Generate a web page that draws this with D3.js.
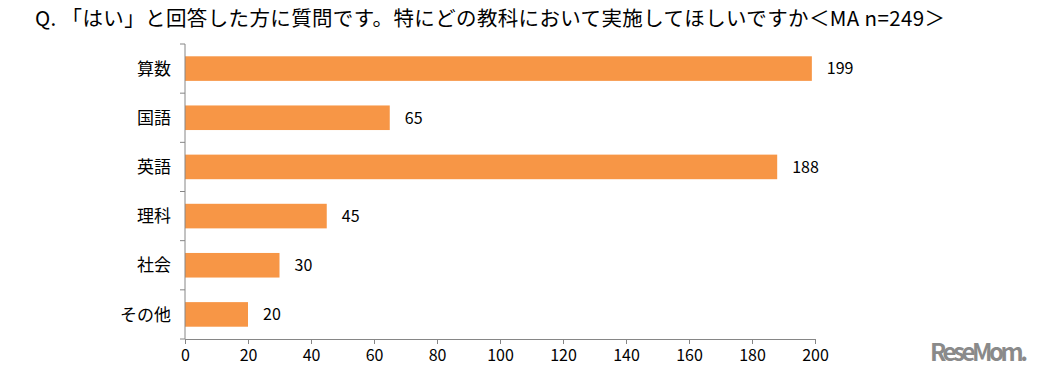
<!DOCTYPE html>
<html>
<head>
<meta charset="utf-8">
<script src="https://cdn.jsdelivr.net/npm/d3@7"></script>
<style>
  body { margin: 0; background: #fff; }
  text { font-family: "Noto Sans CJK JP", "Noto Sans", sans-serif; fill: #000; }
</style>
</head>
<body>
<div id="chart"></div>
<script>
    const width = 1041, height = 375;

    // データ
    const categories = ["算数", "国語", "英語", "理科", "社会", "その他"];
    const counts = [199, 65, 188, 45, 30, 20];
    const xTicks = [0, 20, 40, 60, 80, 100, 120, 140, 160, 180, 200];
    const title = "Q. 「はい」と回答した方に質問です。特にどの教科において実施してほしいですか＜MA n=249＞";

    const margin = { top: 44, left: 185, right: 226, bottom: 36 };

    const svg = d3.select("#chart")
        .append("svg")
        .attr("width", width)
        .attr("height", height);

    const x = d3.scaleLinear()
        .domain([0, 200])
        .range([margin.left, width - margin.right]);

    const y = d3.scaleBand()
        .domain(categories)
        .range([margin.top, height - margin.bottom])
        .paddingInner(0.5)
        .paddingOuter(0.25);

    // タイトル
    svg.append("text")
        .attr("x", 35)
        .attr("y", 26)
        .attr("font-size", 20.5)
        .attr("textLength", 910)
        .attr("lengthAdjust", "spacing")
        .text(title);

    // 棒
    svg.selectAll(".bar")
        .data(categories)
        .enter().append("rect")
        .attr("class", "bar")
        .attr("x", x(0))
        .attr("y", d => y(d))
        .attr("width", (d, i) => x(counts[i]) - x(0))
        .attr("height", y.bandwidth())
        .attr("fill", "#F79646");

    // 値ラベル
    svg.selectAll(".val")
        .data(categories)
        .enter().append("text")
        .attr("class", "val")
        .attr("x", (d, i) => x(counts[i]) + 15)
        .attr("y", d => y(d) + y.bandwidth() / 2)
        .attr("dy", "0.36em")
        .attr("font-size", 16)
        .text((d, i) => counts[i]);

    // X軸
    const xAxis = svg.append("g")
        .attr("transform", `translate(0,${height - margin.bottom})`)
        .call(d3.axisBottom(x).tickValues(xTicks).tickSize(5).tickPadding(6).tickSizeOuter(0));
    xAxis.selectAll("text").attr("font-size", 16).attr("font-family", null);
    xAxis.select(".domain").attr("stroke", "#868686");
    xAxis.selectAll(".tick line").attr("stroke", "#868686");

    // Y軸（カテゴリの境界に目盛）
    const yBounds = d3.range(categories.length + 1).map(i => margin.top + i * ((height - margin.bottom - margin.top) / categories.length));
    const yAxis = svg.append("g");
    yAxis.append("line")
        .attr("x1", x(0)).attr("x2", x(0))
        .attr("y1", margin.top).attr("y2", height - margin.bottom);
    yAxis.selectAll(".ytick")
        .data(yBounds)
        .enter().append("line")
        .attr("x1", x(0) - 5).attr("x2", x(0))
        .attr("y1", d => d).attr("y2", d => d);
    yAxis.selectAll("line").attr("stroke", "#868686");

    svg.selectAll(".cat")
        .data(categories)
        .enter().append("text")
        .attr("class", "cat")
        .attr("x", x(0) - 14)
        .attr("y", d => y(d) + y.bandwidth() / 2)
        .attr("dy", "0.36em")
        .attr("text-anchor", "end")
        .attr("font-size", 17)
        .text(d => d);

    // ロゴ
    svg.append("text")
        .attr("x", 930)
        .attr("y", 361)
        .attr("font-size", 24)
        .attr("font-weight", "bold")
        .attr("font-family", "Roboto, sans-serif")
        .style("fill", "#8a8a8a")
        .attr("textLength", 98)
        .text("ReseMom.");
</script>
</body>
</html>
